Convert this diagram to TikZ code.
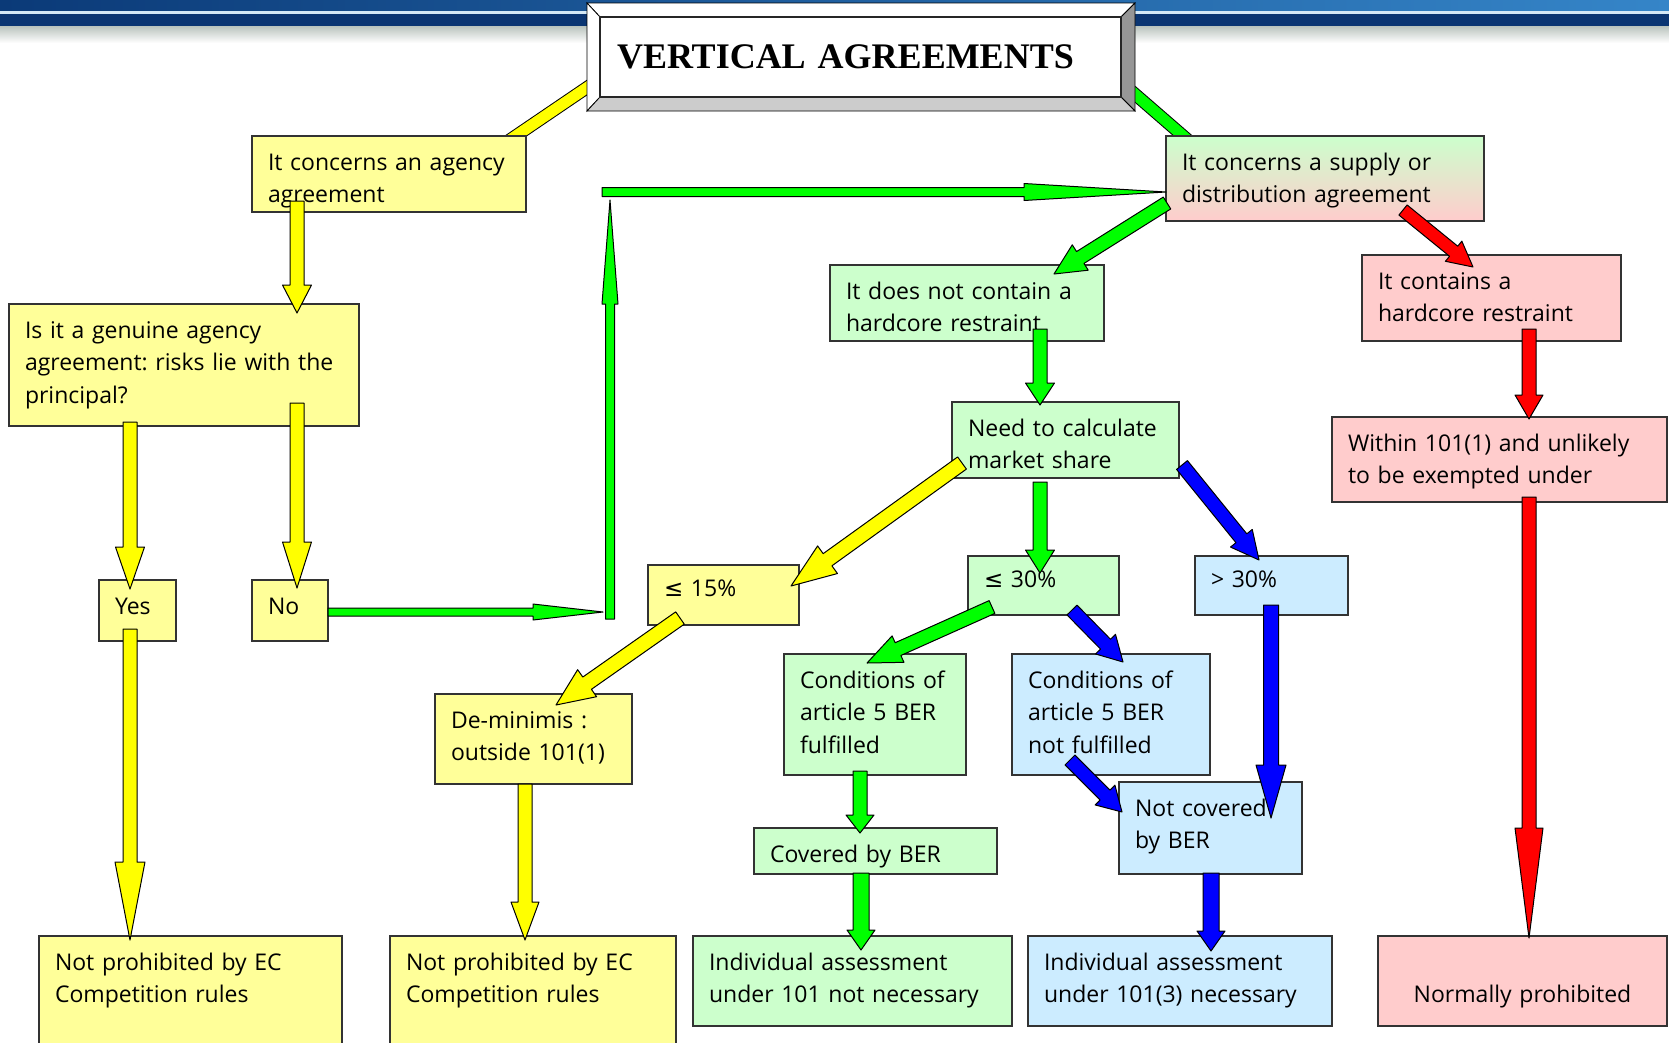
\documentclass[tikz,border=0pt]{standalone}
\usepackage{fontspec}
\setmainfont{Open Sans}
\newfontfamily\bodyfont{Open Sans}
\newfontfamily\titlefont{Liberation Serif}
\newfontfamily\symfont{DejaVu Sans}
\usepackage{tikz}
\usetikzlibrary{calc,backgrounds}
\usepackage{xcolor}
\definecolor{boxyellow}{HTML}{FFFF99}
\definecolor{boxgreen}{HTML}{CCFFCC}
\definecolor{boxblue}{HTML}{CCECFF}
\definecolor{boxpink}{HTML}{FFCCCC}
\definecolor{arryellow}{HTML}{FFFF00}
\definecolor{arrgreen}{HTML}{00FF00}
\definecolor{arrblue}{HTML}{0000FF}
\definecolor{arrred}{HTML}{FF0000}
\definecolor{hdrdark}{HTML}{0B3A78}
\definecolor{hdrlight}{HTML}{3585C8}
\definecolor{hdrnavy}{HTML}{0A3572}
\definecolor{hdrline}{HTML}{D4E8F6}
\definecolor{hdrgray}{HTML}{B9C3BD}
\definecolor{bevelgray}{HTML}{969696}
\definecolor{bevellight}{HTML}{CCCCCC}

\frenchspacing
\newcommand{\bodytext}{\bodyfont\fontsize{23}{32.5}\selectfont}

\tikzset{
  ashaft/.store in=\asw, ahead/.store in=\ahw, ahlen/.store in=\ahl,
  ashaft=7, ahead=14, ahlen=25,
  txth/.store in=\txth, txth=34,
  sz/.code 2 args={%
    \pgfmathsetmacro\szw{#1-32}%
    \pgfmathsetmacro\szd{#2-\txth}%
    \edef\sztmp{\noexpand\tikzset{text width=\szw pt, text height=\txth pt, text depth=\szd pt}}\sztmp},
  bx/.style={draw=black!80, line width=1.3pt, anchor=north west, align=left,
    inner xsep=16pt, inner ysep=0pt, outer sep=0pt, font=\bodytext},
  ybox/.style={bx, fill=boxyellow},
  gbox/.style={bx, fill=boxgreen},
  bbox/.style={bx, fill=boxblue},
  rbox/.style={bx, fill=boxpink},
  sbox/.style={bx, top color=boxgreen, bottom color=boxpink},
  titlebox/.style={draw=black!85, line width=2.5pt, fill=white, outer sep=0pt,
    minimum height=80pt, text width=487pt, inner xsep=17pt, align=left,
    font=\titlefont\bfseries\fontsize{36}{40}\selectfont},
  bevel/.style={draw=black, line width=0.8pt},
  arr/.style={draw=black, line width=1pt, line join=round},
  bar/.style={draw=black, line width=1pt, double distance=11pt},
}

% block arrow: [sizes]{colour}{from}{to}
\newcommand{\blockarrow}[4][]{%
  \begin{scope}[#1]
    \coordinate (ba) at (#3);
    \coordinate (bt) at (#4);
    \coordinate (bh) at ($(bt)!\ahl pt!(ba)$);
    \draw[arr, fill=#2] ($(ba)!\asw pt!90:(bt)$) -- ($(bh)!\asw pt!90:(bt)$)
      -- ($(bh)!\ahw pt!90:(bt)$) -- (bt) -- ($(bh)!\ahw pt!-90:(bt)$)
      -- ($(bh)!\asw pt!-90:(bt)$) -- ($(ba)!\asw pt!-90:(bt)$) -- cycle;
  \end{scope}}

\begin{document}
\begin{tikzpicture}[x=1pt, y=-1pt]
  \useasboundingbox (0,0) rectangle (1669,1042);

  % title with bevelled frame
  \node[titlebox] (title) at (860.5,57) {VERTICAL AGREEMENTS};
  \coordinate (tnw) at ([shift={(-13pt,14pt)}]title.north west);
  \coordinate (tne) at ([shift={(14pt,14pt)}]title.north east);
  \coordinate (tse) at ([shift={(14pt,-14pt)}]title.south east);
  \coordinate (tsw) at ([shift={(-13pt,-14pt)}]title.south west);
  \draw[bevel, fill=white] (tnw) -- (tne) -- (title.north east) -- (title.north west) -- cycle;
  \draw[bevel, fill=white] (tnw) -- (title.north west) -- (title.south west) -- (tsw) -- cycle;
  \draw[bevel, fill=bevelgray] (tne) -- (tse) -- (title.south east) -- (title.north east) -- cycle;
  \draw[bevel, fill=bevellight] (tsw) -- (title.south west) -- (title.south east) -- (tse) -- cycle;
  \draw[draw=black!85, line width=2.5pt] (title.north west) rectangle (title.south east);

  % boxes
  \node[ybox, sz={274}{76}] (agency) at (252,136) {It concerns an agency\\agreement};
  \node[ybox, sz={350}{122}] (genuine) at (9,304) {Is it a genuine agency\\agreement: risks lie with the\\principal?};
  \node[ybox, sz={77}{61}] (yes) at (99,580) {Yes};
  \node[ybox, sz={76}{61}] (no) at (252,580) {No};
  \node[ybox, sz={303}{130}] (np1) at (39,936) {Not prohibited by EC\\Competition rules};
  \node[sbox, sz={318}{85}] (supply) at (1166,136) {It concerns a supply or\\distribution agreement};
  \node[gbox, sz={274}{76}] (nohc) at (830,265) {It does not contain a\\hardcore restraint};
  \node[rbox, sz={259}{86}] (hc) at (1362,255) {It contains a\\hardcore restraint};
  \node[gbox, sz={227}{76}] (need) at (952,402) {Need to calculate\\market share};
  \node[rbox, sz={335}{85}] (within) at (1332,417) {Within 101(1) and unlikely\\to be exempted under};
  \node[ybox, txth=31, sz={151}{60}] (le15) at (648,565) {{\symfont ≤} 15\%};
  \node[gbox, txth=31, sz={151}{59}] (le30) at (968,556) {{\symfont ≤} 30\%};
  \node[bbox, txth=31, sz={153}{59}] (gt30) at (1195,556) {> 30\%};
  \node[ybox, sz={197}{90}] (demin) at (435,694) {De-minimis :\\outside 101(1)};
  \node[gbox, sz={182}{121}] (condok) at (784,654) {Conditions of\\article 5 BER\\fulfilled};
  \node[bbox, sz={198}{121}] (condno) at (1012,654) {Conditions of\\article 5 BER\\not fulfilled};
  \node[gbox, sz={243}{46}] (covered) at (754,828) {Covered by BER};
  \node[bbox, sz={183}{92}] (notcov) at (1119,782) {Not covered\\by BER};
  \node[ybox, sz={286}{130}] (np2) at (390,936) {Not prohibited by EC\\Competition rules};
  \node[gbox, sz={319}{90}] (indiv1) at (693,936) {Individual assessment\\under 101 not necessary};
  \node[bbox, sz={304}{90}] (indiv2) at (1028,936) {Individual assessment\\under 101(3) necessary};
  \node[rbox, txth=66, align=center, sz={289}{90}] (normal) at (1378,936) {Normally prohibited};

  % header band and the two bars under the title
  \begin{scope}[on background layer]
    \shade[left color=hdrdark, right color=hdrlight] (0,0) rectangle (1669,11);
    \fill[hdrline] (0,11) rectangle (1669,13.5);
    \fill[hdrnavy] (0,13.5) rectangle (1669,26);
    \shade[top color=hdrgray, bottom color=white] (0,26) rectangle (1669,43);
    \draw[bar, double=arryellow] ([xshift=-28pt,yshift=-12pt]agency.north east) -- ([xshift=4pt,yshift=21pt]title.south west);
    \draw[bar, double=arrgreen] ([xshift=-7pt,yshift=21pt]title.south east) -- ([xshift=31pt,yshift=-12pt]supply.north west);
  \end{scope}

  % agency branch
  \blockarrow[ahead=14.5, ahlen=28]{arryellow}{[xshift=45pt,yshift=11pt]agency.south west}{[xshift=288pt,yshift=-9pt]genuine.north west}
  \blockarrow[ahead=14.5, ahlen=42]{arryellow}{[xshift=121pt,yshift=4pt]genuine.south west}{[xshift=31pt,yshift=-9pt]yes.north west}
  \blockarrow[ahead=14.5, ahlen=46]{arryellow}{[xshift=288pt,yshift=23pt]genuine.south west}{[xshift=45pt,yshift=-8pt]no.north west}
  \blockarrow[ahead=15, ahlen=78]{arryellow}{[xshift=31pt,yshift=12pt]yes.south west}{[xshift=91pt,yshift=-4pt]np1.north west}

  % No leads back to the supply agreement
  \coordinate (c1) at (603,612);
  \coordinate (c2) at (610,619);
  \coordinate (c3) at (610,200);
  \coordinate (c4) at (602,192);
  \blockarrow[ashaft=4, ahead=8, ahlen=70]{arrgreen}{[yshift=-1.5pt]no.east}{c1}
  \blockarrow[ashaft=4.5, ahead=8, ahlen=104]{arrgreen}{c2}{c3}
  \blockarrow[ashaft=4.5, ahead=8.5, ahlen=142]{arrgreen}{c4}{[yshift=-13.5pt]supply.west}

  % supply branch
  \blockarrow[ahead=15, ahlen=31]{arrgreen}{[xshift=1pt,yshift=18pt]supply.south west}{[xshift=224pt,yshift=-9pt]nohc.north west}
  \blockarrow[ashaft=6.5, ahead=13, ahlen=25]{arrred}{[xshift=237pt,yshift=11pt]supply.south west}{[xshift=111pt,yshift=-12pt]hc.north west}
  \blockarrow[ahead=14, ahlen=24]{arrred}{[xshift=167pt,yshift=12pt]hc.south west}{[xshift=197pt,yshift=-2pt]within.north west}
  \blockarrow[ahead=14, ahlen=110]{arrred}{[xshift=197pt,yshift=5pt]within.south west}{[xshift=151pt,yshift=-2pt]normal.north west}
  \blockarrow[ahead=14.5, ahlen=22]{arrgreen}{[xshift=210pt,yshift=12pt]nohc.south west}{[xshift=88pt,yshift=-3pt]need.north west}

  % market share
  \blockarrow[ashaft=7.5, ahead=17, ahlen=45]{arryellow}{[xshift=10pt,yshift=15pt]need.south west}{[xshift=-8pt,yshift=-21pt]le15.north east}
  \blockarrow[ahead=14.5, ahlen=23]{arrgreen}{[xshift=88pt,yshift=-4pt]need.south west}{[xshift=72pt,yshift=-17pt]le30.north west}
  \blockarrow[ahead=14, ahlen=28]{arrblue}{[xshift=3pt,yshift=13pt]need.south east}{[xshift=64pt,yshift=-4pt]gt30.north west}
  \blockarrow[ashaft=7.5, ahead=16.5, ahlen=38]{arryellow}{[xshift=32pt,yshift=7pt]le15.south west}{[xshift=121pt,yshift=-11pt]demin.north west}
  \blockarrow[ahead=14.5, ahlen=34]{arrgreen}{[xshift=24pt,yshift=8pt]le30.south west}{[xshift=83pt,yshift=-9pt]condok.north west}
  \blockarrow[ahead=14, ahlen=25]{arrblue}{[xshift=104pt,yshift=5pt]le30.south west}{[xshift=111pt,yshift=-8pt]condno.north west}
  \blockarrow[ashaft=7.5, ahead=15, ahlen=53]{arrblue}{[xshift=76pt,yshift=10pt]gt30.south west}{[xshift=152pt,yshift=-36pt]notcov.north west}
  \blockarrow[ahead=14, ahlen=24]{arrblue}{[xshift=58pt,yshift=15pt]condno.south west}{[xshift=3pt,yshift=-30pt]notcov.north west}
  \blockarrow[ahead=14, ahlen=18]{arrgreen}{[xshift=76pt,yshift=4pt]condok.south west}{[xshift=106pt,yshift=-5pt]covered.north west}
  \blockarrow[ashaft=8, ahead=14, ahlen=20]{arrgreen}{[xshift=107pt,yshift=1pt]covered.south west}{[xshift=168pt,yshift=-14pt]indiv1.north west}
  \blockarrow[ashaft=8, ahead=14, ahlen=20]{arrblue}{[xshift=92pt,yshift=1pt]notcov.south west}{[xshift=183pt,yshift=-15pt]indiv2.north west}
  \blockarrow[ahead=14, ahlen=38]{arryellow}{[xshift=90pt]demin.south west}{[xshift=135pt,yshift=-4pt]np2.north west}
\end{tikzpicture}
\end{document}
